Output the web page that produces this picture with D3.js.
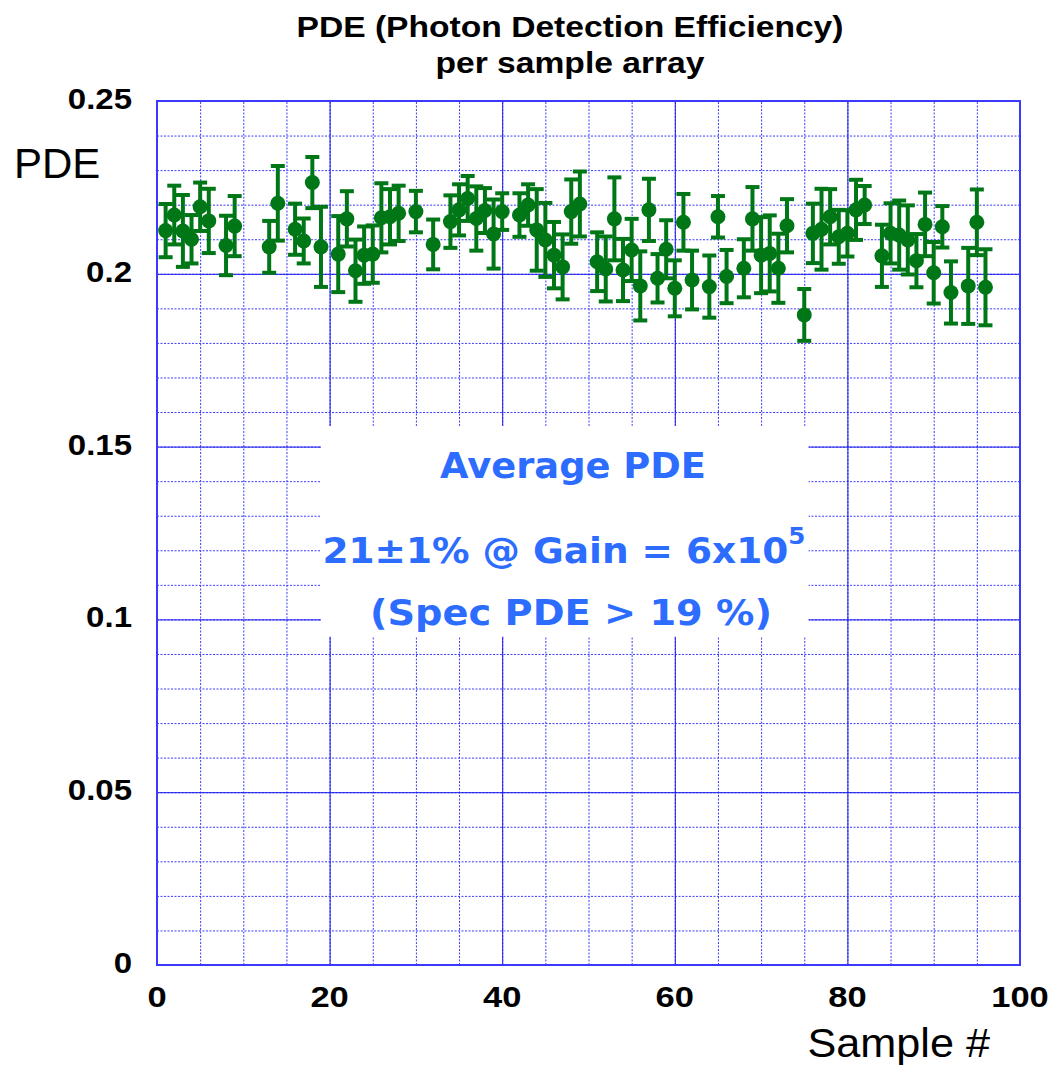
<!DOCTYPE html>
<html>
<head>
<meta charset="utf-8">
<script src="https://d3js.org/d3.v7.min.js"></script>
<style>
  body { margin: 0; background: #fff; }
</style>
</head>
<body>
<div id="chart"></div>
<script>
// sample number, measured PDE and its error
var sampleIds = [1, 2, 3, 4, 5, 6, 8, 9, 13, 14, 16, 17, 18, 19, 21, 22, 23, 24, 25, 26,
    27, 28, 30, 32, 34, 35, 36, 37, 38, 39, 40, 42, 43, 44, 45, 46, 47, 48, 49, 51,
    52, 53, 54, 55, 56, 57, 58, 59, 60, 61, 62, 64, 65, 66, 68, 69, 70, 71, 72, 73,
    75, 76, 77, 78, 79, 80, 81, 82, 84, 85, 86, 87, 88, 89, 90, 91, 92, 94, 95, 96];
var pdeValues = [0.2125, 0.217, 0.2124, 0.210, 0.2194, 0.2153, 0.2082, 0.2138, 0.2078, 0.2204,
    0.2129, 0.2095, 0.2264, 0.2078, 0.2057, 0.2159, 0.2009, 0.2054, 0.2057, 0.2162,
    0.2165, 0.2175, 0.218, 0.2085, 0.2151, 0.2185, 0.2218, 0.216, 0.2183, 0.2115,
    0.218, 0.217, 0.2199, 0.2127, 0.2098, 0.2054, 0.202, 0.218, 0.2202, 0.2035,
    0.2014, 0.2159, 0.2011, 0.2069, 0.1965, 0.2185, 0.1987, 0.2071, 0.1958, 0.2149,
    0.1982, 0.1963, 0.2165, 0.1992, 0.2016, 0.2159, 0.2054, 0.2059, 0.2016, 0.2139,
    0.1881, 0.2117, 0.2129, 0.2165, 0.2107, 0.2117, 0.2185, 0.2199, 0.2052, 0.2117,
    0.2112, 0.2098, 0.2038, 0.2143, 0.2003, 0.2136, 0.1946, 0.1965, 0.2149, 0.1961];
var pdeErrors = [0.0077, 0.0085, 0.0104, 0.007, 0.007, 0.0093, 0.0086, 0.0087, 0.0075, 0.0108,
    0.0074, 0.0065, 0.0074, 0.0116, 0.011, 0.008, 0.009, 0.0083, 0.0083, 0.01,
    0.008, 0.008, 0.006, 0.0072, 0.0076, 0.0074, 0.0065, 0.0093, 0.0065, 0.01,
    0.0053, 0.0063, 0.006, 0.0118, 0.0107, 0.0096, 0.0094, 0.0093, 0.0094, 0.0085,
    0.0094, 0.012, 0.009, 0.009, 0.01, 0.009, 0.007, 0.0084, 0.0081, 0.0082,
    0.0085, 0.009, 0.006, 0.0077, 0.0084, 0.0092, 0.011, 0.011, 0.01, 0.0077,
    0.0075, 0.0086, 0.0117, 0.008, 0.0078, 0.0067, 0.0087, 0.0055, 0.009, 0.0087,
    0.01, 0.01, 0.0077, 0.0092, 0.0089, 0.006, 0.009, 0.011, 0.0095, 0.011];

var xTicks = [0, 20, 40, 60, 80, 100];
var yTicks = [0, 0.05, 0.1, 0.15, 0.2, 0.25];
var titleLines = ["PDE (Photon Detection Efficiency)", "per sample array"];

var padding = { top: 101, left: 157, right: 33, bottom: 104 };
const width = 1053;
const height = 1069;
const plotW = width - padding.left - padding.right;
const plotH = height - padding.top - padding.bottom;

var svg = d3.select("#chart")
    .append("svg")
    .attr("width", width)
    .attr("height", height)
    .style("font-family", "Liberation Sans, Arial, sans-serif");

const xScale = d3.scaleLinear().domain([0, 100]).range([0, plotW]);
const yScale = d3.scaleLinear().domain([0, 0.25]).range([plotH, 0]);

// stretch a text a bit sideways, the original font is wider
function widen(sel, k) {
    sel.each(function () {
        var w = this.getComputedTextLength();
        d3.select(this).attr("textLength", w * k).attr("lengthAdjust", "spacingAndGlyphs");
    });
}

var g = svg.append("g").attr("transform", `translate(${padding.left},${padding.top})`);

// minor grid (dotted)
g.append("g")
    .call(d3.axisBottom(xScale).tickValues(d3.range(5, 100, 5)).tickSize(-plotH).tickFormat(""))
    .attr("transform", `translate(0,${plotH})`)
    .call(s => s.select(".domain").remove())
    .selectAll("line")
    .attr("stroke", "#3b3bff")
    .attr("stroke-dasharray", "2,1.5")
    .attr("stroke-width", 1);
g.append("g")
    .call(d3.axisLeft(yScale).tickValues(d3.range(0.01, 0.25, 0.01)).tickSize(-plotW).tickFormat(""))
    .call(s => s.select(".domain").remove())
    .selectAll("line")
    .attr("stroke", "#3b3bff")
    .attr("stroke-dasharray", "2,1.5")
    .attr("stroke-width", 1);

// major grid (solid)
g.append("g")
    .call(d3.axisBottom(xScale).tickValues(xTicks).tickSize(-plotH).tickFormat(""))
    .attr("transform", `translate(0,${plotH})`)
    .call(s => s.select(".domain").remove())
    .selectAll("line")
    .attr("stroke", "#1a1aee")
    .attr("stroke-width", 1);
g.append("g")
    .call(d3.axisLeft(yScale).tickValues(yTicks).tickSize(-plotW).tickFormat(""))
    .call(s => s.select(".domain").remove())
    .selectAll("line")
    .attr("stroke", "#1a1aee")
    .attr("stroke-width", 1);

// frame
g.append("rect")
    .attr("width", plotW)
    .attr("height", plotH)
    .attr("fill", "none")
    .attr("stroke", "#3a3aff")
    .attr("stroke-width", 2);

// tick labels
g.selectAll(".xlab")
    .data(xTicks)
    .enter().append("text")
    .attr("x", d => xScale(d))
    .attr("y", plotH + 42)
    .attr("text-anchor", "middle")
    .style("font-size", "30px")
    .style("font-weight", "bold")
    .text(d => d)
    .call(widen, 1.15);
g.selectAll(".ylab")
    .data(yTicks)
    .enter().append("text")
    .attr("x", -25)
    .attr("y", d => yScale(d) + 8)
    .attr("text-anchor", "end")
    .style("font-size", "30px")
    .style("font-weight", "bold")
    .text(d => d)
    .call(widen, 1.1);

// error bars + points
var pts = sampleIds.map((s, i) => ({ s: s, v: pdeValues[i], e: pdeErrors[i] }));
var green = "#007716";
var bars = g.append("g");
pts.forEach(function (d) {
    var x = xScale(d.s), y1 = yScale(d.v + d.e), y2 = yScale(d.v - d.e);
    bars.append("line").attr("x1", x).attr("x2", x).attr("y1", y1).attr("y2", y2)
        .attr("stroke", green).attr("stroke-width", 4);
    bars.append("line").attr("x1", x - 7).attr("x2", x + 7).attr("y1", y1).attr("y2", y1)
        .attr("stroke", green).attr("stroke-width", 4);
    bars.append("line").attr("x1", x - 7).attr("x2", x + 7).attr("y1", y2).attr("y2", y2)
        .attr("stroke", green).attr("stroke-width", 4);
});
g.append("g").selectAll("circle")
    .data(pts)
    .enter().append("circle")
    .attr("cx", d => xScale(d.s))
    .attr("cy", d => yScale(d.v))
    .attr("r", 7.5)
    .attr("fill", green);

// annotation box
var box = g.append("g");
box.append("rect")
    .attr("x", xScale(19))
    .attr("y", yScale(0.156))
    .attr("width", xScale(75.5) - xScale(19))
    .attr("height", yScale(0.095) - yScale(0.156))
    .attr("fill", "#fff");
var boxFont = "'Comic Sans MS', 'DejaVu Sans', sans-serif";
var blue = "#2c6cff";
box.append("text")
    .attr("x", 573 - padding.left).attr("y", 478 - padding.top)
    .attr("text-anchor", "middle")
    .style("font-family", boxFont).style("font-size", "35px").style("font-weight", "bold")
    .attr("fill", blue)
    .text("Average PDE")
    .attr("textLength", 266).attr("lengthAdjust", "spacingAndGlyphs");
var t2 = box.append("text")
    .attr("x", 564 - padding.left).attr("y", 563 - padding.top)
    .attr("text-anchor", "middle")
    .style("font-family", boxFont).style("font-size", "35px").style("font-weight", "bold")
    .attr("fill", blue)
    .attr("textLength", 483).attr("lengthAdjust", "spacingAndGlyphs");
t2.append("tspan").text("21±1% @ Gain = 6x10");
t2.append("tspan").attr("dy", -19).style("font-size", "23px").text("5");
box.append("text")
    .attr("x", 571 - padding.left).attr("y", 625 - padding.top)
    .attr("text-anchor", "middle")
    .style("font-family", boxFont).style("font-size", "35px").style("font-weight", "bold")
    .attr("fill", blue)
    .text("(Spec PDE > 19 %)")
    .attr("textLength", 402).attr("lengthAdjust", "spacingAndGlyphs");

// titles
svg.selectAll(".title")
    .data(titleLines)
    .enter().append("text")
    .attr("x", 570)
    .attr("y", (d, i) => 37 + i * 36)
    .attr("text-anchor", "middle")
    .style("font-size", "30px")
    .style("font-weight", "bold")
    .text(d => d)
    .call(widen, 1.12);

svg.append("text")
    .attr("x", 14).attr("y", 178)
    .style("font-size", "42px")
    .text("PDE");
svg.append("text")
    .attr("x", 990).attr("y", 1057)
    .attr("text-anchor", "end")
    .style("font-size", "40px")
    .text("Sample #")
    .call(widen, 1.08);
</script>
</body>
</html>
